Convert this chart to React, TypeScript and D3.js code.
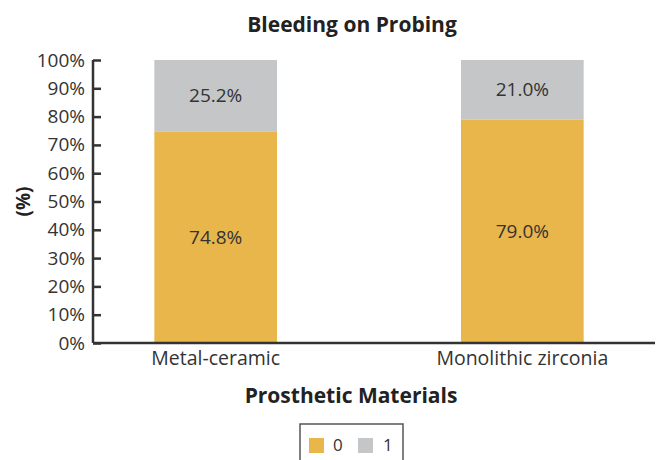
import React, { useRef, useEffect } from "react";
import * as d3 from "d3";

const categories = ["Metal-ceramic", "Monolithic zirconia"];
const series0 = [74.8, 79.0];
const series1 = [25.2, 21.0];
const seriesNames = ["0", "1"];
const yTicks = [0, 10, 20, 30, 40, 50, 60, 70, 80, 90, 100];

const colors = ["#E8B64B", "#C5C6C8"];
const font = "'Open Sans', sans-serif";

const App = () => {
  const ref = useRef<SVGSVGElement>(null);

  useEffect(() => {
    const width = 657;
    const height = 460;
    const margin = { top: 60, right: 2, bottom: 117, left: 93 };

    const svg = d3.select(ref.current);
    svg.selectAll("*").remove();
    svg.attr("width", width).attr("height", height);

    const x = d3.scaleBand()
      .domain(categories)
      .range([margin.left, 645])
      .paddingInner(0.6)
      .paddingOuter(0.2);

    const y = d3.scaleLinear()
      .domain([0, 100])
      .range([height - margin.bottom, margin.top]);

    const rows = categories.map((c, i) => ({ cat: c, "0": series0[i], "1": series1[i] }));
    const stacked = d3.stack<any>().keys(seriesNames)(rows);

    stacked.forEach((s, si) => {
      svg.append("g")
        .selectAll("rect")
        .data(s)
        .join("rect")
        .attr("x", d => x(d.data.cat)!)
        .attr("width", x.bandwidth())
        .attr("y", d => y(d[1]))
        .attr("height", d => y(d[0]) - y(d[1]))
        .attr("fill", colors[si]);

      svg.append("g")
        .selectAll("text")
        .data(s)
        .join("text")
        .attr("x", d => x(d.data.cat)! + x.bandwidth() / 2)
        .attr("y", d => y((d[0] + d[1]) / 2))
        .attr("dy", "0.35em")
        .attr("text-anchor", "middle")
        .attr("font-family", font)
        .attr("font-size", 19)
        .attr("fill", "#333")
        .text(d => (d[1] - d[0]).toFixed(1) + "%");
    });

    // y axis
    const yAxis = svg.append("g")
      .attr("transform", `translate(${margin.left},0)`)
      .call(d3.axisRight(y).tickValues(yTicks).tickSize(8).tickFormat(d => d + "%"));
    yAxis.select(".domain").attr("stroke", "#333").attr("stroke-width", 2.5).attr("d", `M0,${y(100)}V${y(0)}`);
    yAxis.selectAll(".tick line").attr("stroke", "#333").attr("stroke-width", 2.5);
    yAxis.selectAll(".tick text")
      .attr("x", -8)
      .attr("text-anchor", "end")
      .attr("font-family", font)
      .attr("font-size", 19)
      .attr("fill", "#333");

    // x axis
    const xAxis = svg.append("g")
      .attr("transform", `translate(0,${y(0)})`)
      .call(d3.axisBottom(x).tickSize(0).tickPadding(8));
    xAxis.select(".domain").attr("stroke", "#333").attr("stroke-width", 2.5)
      .attr("d", `M${margin.left},0H${width - margin.right}`);
    xAxis.selectAll(".tick text")
      .attr("font-family", font)
      .attr("font-size", 19.5)
      .attr("fill", "#333");

    // title
    svg.append("text")
      .attr("x", 352)
      .attr("y", 32)
      .attr("text-anchor", "middle")
      .attr("font-family", font)
      .attr("font-weight", "bold")
      .attr("font-size", 21)
      .attr("fill", "#222")
      .text("Bleeding on Probing");

    svg.append("text")
      .attr("x", 351)
      .attr("y", 403)
      .attr("text-anchor", "middle")
      .attr("font-family", font)
      .attr("font-weight", "bold")
      .attr("font-size", 21)
      .attr("fill", "#222")
      .text("Prosthetic Materials");

    svg.append("text")
      .attr("transform", `translate(23,${y(50)}) rotate(-90)`)
      .attr("text-anchor", "middle")
      .attr("dy", "0.35em")
      .attr("font-family", font)
      .attr("font-weight", "bold")
      .attr("font-size", 19)
      .attr("fill", "#222")
      .text("(%)");

    // legend
    const lg = svg.append("g").attr("transform", "translate(300,424)");
    lg.append("rect")
      .attr("width", 103).attr("height", 45)
      .attr("fill", "white").attr("stroke", "#555").attr("stroke-width", 1.5);
    seriesNames.forEach((n, i) => {
      lg.append("rect")
        .attr("x", 9 + i * 49).attr("y", 14)
        .attr("width", 15).attr("height", 15)
        .attr("fill", colors[i]);
      lg.append("text")
        .attr("x", 33 + i * 50).attr("y", 21)
        .attr("dy", "0.35em")
        .attr("font-family", font)
        .attr("font-size", 17)
        .attr("fill", "#333")
        .text(n);
    });
  }, []);

  return <svg ref={ref} style={{ position: "absolute", left: 0, top: 0 }}></svg>;
};

export default App;
